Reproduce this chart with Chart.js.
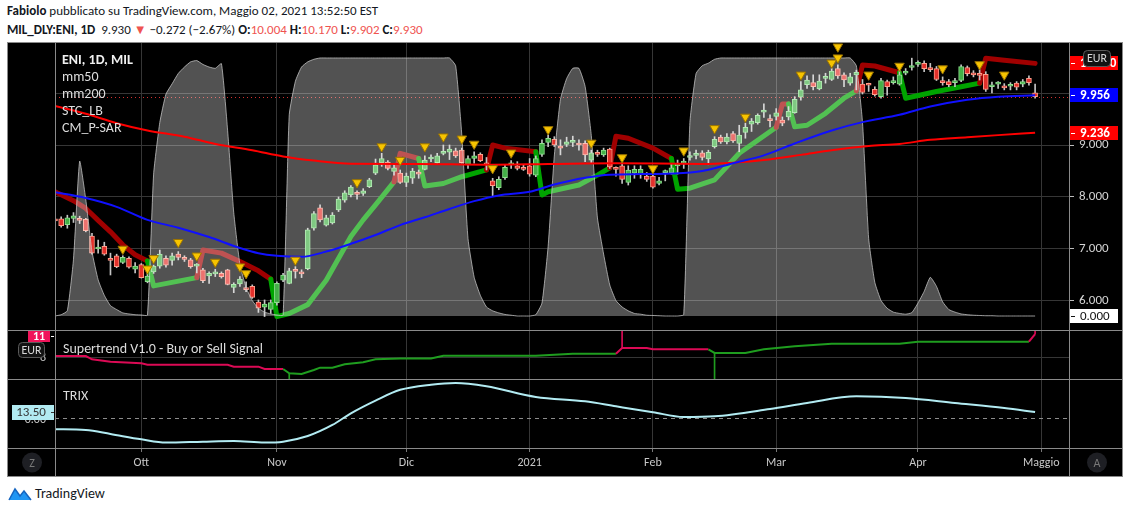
<!DOCTYPE html>
<html>
<head>
<meta charset="utf-8">
<script src="https://cdn.jsdelivr.net/npm/chart.js@4.4.1/dist/chart.umd.min.js"></script>
<style>
  body { margin: 0; width: 1130px; height: 512px; background: #fff; position: relative; overflow: hidden;
         font-family: Carlito, 'Liberation Sans Narrow', 'Liberation Sans', Arial, sans-serif; color: #131722; }
  .hd { position: absolute; left: 7px; font-size: 13px; white-space: nowrap; }
  #h1 { top: 3px; }
  #h2 { top: 22px; }
  .r { color: #ef5350; }
  #frame { position: absolute; left: 7px; top: 42px; background: #000; }
  #foot { position: absolute; left: 8px; top: 484px; display: flex; align-items: center; font-size: 14px; }
  #foot svg { margin-right: 3px; }
</style>
</head>
<body>
<div class="hd" id="h1"><b>Fabiolo</b> pubblicato su TradingView.com, Maggio 02, 2021 13:52:50 EST</div>
<div class="hd" id="h2"><b>MIL_DLY:ENI, 1D</b>&nbsp; 9.930 <span class="r">▼</span> −0.272 (−2.67%) <b>O:</b><span class="r">10.004</span> <b>H:</b><span class="r">10.170</span> <b>L:</b><span class="r">9.902</span> <b>C:</b><span class="r">9.930</span></div>
<canvas id="frame" width="1116" height="435"></canvas>
<div id="foot">
  <svg width="24" height="18" viewBox="0 0 24 18"><path d="M1 16 L7 5 L12 12 L16 7 L23 16 Z" fill="#2196f3"/><path d="M1 16 L7 5 L12 12 L16 7 L23 16" fill="none" stroke="#1565c0" stroke-width="1.5"/></svg>
  <span>TradingView</span>
</div>
<script>
const FONT = "Carlito, 'Liberation Sans Narrow', 'Liberation Sans', Arial, sans-serif";

// ENI daily bars: index 0 = 11 Sep 2020 ... index 159 = 30 Apr 2021
const open = [
  7.57,7.58,7.47,7.59,7.58,7.57,7.25,7.00,7.05,6.82,
  6.87,6.74,6.82,6.61,6.70,6.37,6.56,6.67,6.82,6.78,
  6.90,6.84,6.79,6.67,6.60,6.48,6.52,6.53,6.60,6.26,
  6.33,6.26,6.28,5.98,5.88,5.84,5.97,6.40,6.34,6.61,
  6.55,6.62,7.40,7.79,7.46,7.50,7.75,7.94,8.04,8.07,
  8.07,8.20,8.46,8.66,8.67,8.49,8.46,8.28,8.36,8.47,
  8.53,8.73,8.66,8.84,8.86,8.89,8.90,8.62,8.74,8.82,
  8.64,8.31,8.18,8.37,8.62,8.60,8.57,8.60,8.42,8.82,
  9.05,9.11,8.98,9.01,9.05,9.01,9.03,8.71,8.85,8.81,
  8.92,8.55,8.60,8.28,8.46,8.44,8.40,8.40,8.26,8.47,
  8.47,8.60,8.65,8.76,8.80,8.85,8.73,8.97,9.15,9.06,
  9.22,9.03,9.24,9.40,9.43,9.63,9.49,9.55,9.48,9.54,
  9.62,9.92,10.16,10.20,10.08,10.28,10.26,10.47,10.35,10.19,
  10.35,10.17,10.17,10.07,9.93,10.22,10.20,10.17,10.38,10.49,
  10.55,10.57,10.49,10.47,10.22,10.22,10.20,10.24,10.49,10.39,
  10.38,10.36,10.12,10.17,10.13,10.13,10.19,10.17,10.28,10.004
];
const high = [
  7.60,7.62,7.65,7.70,7.63,7.59,7.30,7.17,7.13,6.92,
  6.90,6.87,6.85,6.74,6.72,6.53,6.69,6.98,6.87,6.92,
  6.95,6.87,6.82,6.72,6.63,6.56,6.61,6.56,6.61,6.35,
  6.47,6.37,6.31,6.02,6.02,6.02,6.37,6.53,6.63,6.66,
  6.60,7.40,7.72,7.85,7.65,7.70,8.00,8.12,8.22,8.12,
  8.16,8.36,8.73,8.84,8.70,8.63,8.52,8.46,8.55,8.52,
  8.79,8.81,8.84,9.00,9.00,8.94,8.94,8.79,8.87,8.85,
  8.76,8.36,8.39,8.62,8.70,8.68,8.62,8.74,8.79,9.10,
  9.19,9.16,9.10,9.15,9.17,9.10,9.08,8.90,8.90,8.94,
  8.94,8.58,8.65,8.60,8.60,8.60,8.47,8.46,8.38,8.52,
  8.64,8.71,8.74,8.87,8.90,8.89,8.90,9.16,9.19,9.22,
  9.26,9.38,9.42,9.51,9.60,9.79,9.58,9.70,9.54,9.74,
  9.93,10.22,10.33,10.35,10.35,10.38,10.47,10.54,10.39,10.38,
  10.44,10.26,10.19,10.12,10.28,10.25,10.31,10.50,10.47,10.67,
  10.62,10.62,10.57,10.51,10.31,10.26,10.28,10.54,10.52,10.43,
  10.45,10.41,10.21,10.22,10.18,10.20,10.22,10.26,10.33,10.170
];
const low = [
  7.50,7.42,7.40,7.51,7.49,7.33,6.90,6.92,6.88,6.50,
  6.64,6.72,6.63,6.54,6.44,6.35,6.53,6.63,6.65,6.69,
  6.79,6.76,6.63,6.54,6.35,6.34,6.47,6.44,6.31,6.16,
  6.28,6.18,6.05,5.78,5.70,5.76,5.92,6.37,6.33,6.44,
  6.45,6.60,7.36,7.52,7.44,7.48,7.72,7.90,8.00,7.96,
  8.03,8.18,8.43,8.59,8.52,8.42,8.26,8.20,8.26,8.36,
  8.52,8.68,8.65,8.81,8.72,8.76,8.65,8.55,8.65,8.68,
  8.52,8.02,8.14,8.34,8.55,8.52,8.51,8.40,8.39,8.78,
  8.97,8.97,8.81,8.97,8.97,8.90,8.68,8.66,8.78,8.78,
  8.55,8.40,8.26,8.23,8.36,8.36,8.30,8.17,8.23,8.31,
  8.44,8.44,8.55,8.71,8.73,8.71,8.62,8.94,9.03,9.02,
  9.05,8.87,9.13,9.26,9.40,9.53,9.35,9.48,9.37,9.48,
  9.61,9.86,10.09,10.06,10.06,10.19,10.24,10.28,10.12,10.15,
  10.06,9.98,10.03,9.94,9.90,9.96,10.17,10.15,10.35,10.44,
  10.51,10.41,10.41,10.24,10.15,10.12,10.12,10.22,10.33,10.31,
  10.25,10.03,10.00,10.09,10.06,10.06,10.06,10.12,10.15,9.902
];
const close = [
  7.54,7.45,7.60,7.64,7.55,7.35,6.92,7.03,6.90,6.78,
  6.66,6.84,6.65,6.67,6.45,6.48,6.67,6.90,6.69,6.87,
  6.84,6.80,6.66,6.69,6.39,6.53,6.56,6.47,6.32,6.32,
  6.42,6.22,6.07,5.86,5.94,5.97,6.34,6.50,6.58,6.57,
  6.52,7.37,7.68,7.56,7.60,7.65,7.96,8.08,8.19,8.05,
  8.12,8.33,8.62,8.74,8.55,8.56,8.28,8.40,8.50,8.44,
  8.71,8.77,8.79,8.88,8.92,8.79,8.66,8.74,8.79,8.70,
  8.62,8.22,8.34,8.57,8.65,8.55,8.53,8.44,8.74,9.03,
  9.13,9.00,8.94,9.06,9.08,9.00,8.81,8.85,8.82,8.90,
  8.58,8.53,8.34,8.52,8.53,8.53,8.34,8.19,8.31,8.50,
  8.56,8.62,8.68,8.79,8.84,8.76,8.86,9.11,9.06,9.15,
  9.08,9.19,9.34,9.46,9.57,9.67,9.47,9.62,9.42,9.65,
  9.88,10.06,10.25,10.12,10.23,10.31,10.42,10.33,10.25,10.31,
  10.40,10.01,10.15,9.97,10.24,10.12,10.23,10.35,10.42,10.52,
  10.58,10.47,10.45,10.26,10.20,10.16,10.22,10.51,10.37,10.35,
  10.34,10.07,10.15,10.19,10.10,10.15,10.11,10.22,10.20,9.930
];

// time axis: bar index of the first session of each month
const monthIdx = [14, 36, 57, 77, 97, 117, 140, 160];
const monthLabels = ['Ott', 'Nov', 'Dic', '2021', 'Feb', 'Mar', 'Apr', 'Maggio'];

// moving averages [bar, value]
const ma50 = [[0,8.09],[5,7.98],[10,7.81],[15,7.56],[20,7.41],[25,7.23],[30,7.02],[33,6.92],[36,6.87],[40,6.85],
  [44,6.95],[48,7.10],[52,7.27],[56,7.46],[60,7.61],[64,7.77],[68,7.92],[72,8.03],[77,8.10],[81,8.24],[86,8.37],
  [90,8.43],[95,8.44],[100,8.45],[105,8.50],[110,8.65],[115,8.80],[120,9.03],[126,9.28],[131,9.44],[137,9.58],
  [142,9.74],[148,9.87],[153,9.93],[159,9.956]];
const ma200 = [[0,9.75],[5,9.60],[10,9.42],[15,9.28],[21,9.16],[26,9.02],[32,8.90],[37,8.78],[42,8.70],[48,8.64],
  [59,8.635],[70,8.62],[80,8.635],[91,8.65],[105,8.635],[110,8.66],[115,8.71],[121,8.81],[126,8.90],[132,8.98],
  [137,9.02],[142,9.10],[148,9.15],[153,9.19],[159,9.236]];

// STC_LB oscillator (0..100), one value per bar
const stc = [
  0,0.5,2,22,60,45,25,14,8,4,
  2.5,1.2,0.8,0.5,0.4,0.3,55,75,86,90,
  94,96.5,98.5,99,97.5,96.5,96,97.8,72,40,
  20,11,6,3,1.5,0.8,0.4,0.3,78,91,
  96.5,98.5,99.5,100,100,100,100,100,100,100,
  100,100,100,100,100,100,100,100,100,100,
  100,100,100,100,100,97,70,30,15,8,
  3.5,2,1.2,0.6,0.3,0,0,0,0.5,5,
  27,62,84,92,96,96,89,70,38,24,
  12,6,3.5,2,1,0.7,0.3,0.2,0.1,0,
  0,0,0.5,75,94,97,98,99.5,100,100,
  100,100,100,100,100,100,100,100,100,100,
  100,100,100,100,100,100,100,100,100,100,
  97,75,30,13,6,3,1.5,1,0.7,1.3,
  5,9.5,15,11.5,5.5,2.5,1.5,0.8,0.5,0.3,
  0.2,0.1,0.1,0,0,0,0,0,0,0
];

// CM_P-SAR line [bar, value]
const psar = [[0,8.10],[3,7.93],[5,7.78],[7,7.55],[9,7.33],[11,7.08],[13,6.89],[15,6.77],
  [16,6.29],[23,6.45],
  [24,6.98],[27,6.92],[30,6.76],[33,6.58],[35,6.42],
  [36,5.70],[38,5.76],[41,5.93],[44,6.40],[48,7.24],[50,7.56],[52,7.85],[55,8.29],
  [56,8.84],[59,8.74],
  [60,8.21],[63,8.26],[66,8.39],[70,8.52],
  [71,9.00],[73,8.94],[78,8.87],
  [79,8.04],[80,8.10],[85,8.23],[88,8.42],[90,8.56],
  [91,9.17],[93,9.13],[97,8.94],[100,8.74],
  [101,8.15],[103,8.17],[107,8.33],[111,8.84],[117,9.34],
  [118,9.79],[119,9.79],
  [120,9.35],[122,9.38],[125,9.61],[128,9.90],[130,10.04],
  [131,10.54],[133,10.52],[137,10.39],
  [138,9.90],[143,10.03],[147,10.12],[150,10.19],
  [151,10.67],[154,10.63],[159,10.57]];

// yellow signal markers [bar, value]
const markers = [[11,7.00],[15,6.62],[16,6.82],[20,7.13],[23,6.87],[26,6.75],[30,6.66],[31,6.53],[39,6.79],
  [49,8.28],[53,8.97],[56,8.71],[60,8.97],[63,9.16],[66,9.12],[68,9.02],[71,8.55],[74,8.85],[80,9.30],
  [87,9.04],[92,8.76],[97,8.55],[102,8.89],[107,9.32],[112,9.54],[121,10.35],[126,10.58],[127,10.68],
  [127,10.89],[132,10.35],[137,10.52],[144,10.47],[150,10.55],[154,10.35]];

// Supertrend V1.0 [bar, value] and its flips
const supertrend = [[0,8.18],[5,8.18],[6,7.72],[9,7.38],[14,7.15],[15,6.96],[28,6.96],[29,6.68],[33,6.68],[34,6.35],
  [37,6.35],[38,5.75],[40,5.65],[42,6.21],[43,6.54],[45,6.54],[47,7.01],[50,7.30],[52,7.72],[56,7.82],[61,7.82],
  [63,8.23],[78,8.23],[84,8.51],[91,8.51],[92,9.31],[96,9.31],[97,9.13],[106,9.13],[107,8.61],[112,8.61],
  [115,9.13],[120,9.55],[126,9.92],[137,9.92],[140,10.2],[158,10.2],[159,11.28]];
const stSignals = [[38,'buy'],[92,'sell'],[107,'buy'],[159,'sell']];

// TRIX [bar, value]
const trix = [[0,-23.5],[5,-25],[9,-33.6],[14,-45],[18,-52],[24,-50],[29,-48.6],[34,-52],[37,-50],[41,-38],
  [45,-14.3],[48,10.7],[52,38],[56,61],[61,72],[65,75.6],[70,68.5],[78,45.6],[86,36.4],[91,25.7],[97,13],
  [102,2.8],[107,4.3],[116,20],[122,32.8],[130,47],[138,43.5],[146,32.8],[154,22],[159,13.5]];

const UP = '#43b047', UP_EDGE = '#8fe08f', DN = '#e3302b', DN_EDGE = '#ff9d8a';
const SAR_RED = '#a00000', SAR_GREEN = '#00a400';
const ST_RED = '#dc0a55', ST_GREEN = '#1f9d1f';
const ST_MIN = 4.944, ST_MAX = 11.845;

const xy = arr => arr.map(([x, y]) => ({x, y}));
const stDir = i => {
  let d = 'sell';
  for (const [k, s] of stSignals) if (k <= i) d = s;
  return d;
};
const stAt = i => supertrend.find(p => p[0] === i)[1];

const decor = {
  id: 'decor',
  beforeDatasetsDraw(chart) {
    const {ctx, chartArea: a, scales: s} = chart;
    ctx.save();
    ctx.lineWidth = 1;
    // last price dotted line
    ctx.strokeStyle = '#d32f2f';
    ctx.setLineDash([1, 3]);
    let yy = Math.round(s.y.getPixelForValue(close[close.length - 1])) + 0.5;
    ctx.beginPath(); ctx.moveTo(a.left, yy); ctx.lineTo(a.right, yy); ctx.stroke();
    // TRIX zero line
    ctx.strokeStyle = '#8c8c8c';
    ctx.setLineDash([4, 4]);
    yy = Math.round(s.ytrix.getPixelForValue(0)) + 0.5;
    ctx.beginPath(); ctx.moveTo(a.left, yy); ctx.lineTo(a.right, yy); ctx.stroke();
    ctx.restore();
  },
  afterDraw(chart) {
    const {ctx, chartArea: a, scales: s, width: W, height: H} = chart;
    ctx.save();
    // frame and pane separators
    ctx.strokeStyle = '#8a8a8a';
    ctx.lineWidth = 1;
    ctx.strokeRect(0.5, 0.5, W - 1, H - 1);
    ctx.beginPath();
    ctx.moveTo(a.left + 0.5, 0); ctx.lineTo(a.left + 0.5, H);
    ctx.moveTo(a.right + 0.5, 0); ctx.lineTo(a.right + 0.5, H);
    for (const y of [s.yst.top, s.ytrix.top, s.x.top]) {
      ctx.moveTo(0, Math.round(y) + 0.5); ctx.lineTo(W, Math.round(y) + 0.5);
    }
    ctx.stroke();

    // legends
    ctx.textBaseline = 'middle';
    ctx.textAlign = 'left';
    ctx.fillStyle = '#f0f0f0';
    ctx.font = `bold 14px ${FONT}`;
    ctx.fillText('ENI, 1D, MIL', a.left + 7, s.y.top + 18);
    ctx.font = `14px ${FONT}`;
    ctx.fillStyle = '#dcdcdc';
    ['mm50', 'mm200', 'STC_LB', 'CM_P-SAR'].forEach((t, i) => ctx.fillText(t, a.left + 7, s.y.top + 35 + i * 17));
    ctx.fillText('Supertrend V1.0 - Buy or Sell Signal', a.left + 8, s.yst.top + 19);
    ctx.fillText('TRIX', a.left + 8, s.ytrix.top + 17);

    const tag = (x, y, w, txt, bg, fg, bold) => {
      ctx.fillStyle = bg;
      ctx.fillRect(x, Math.round(y) - 7, w, 14);
      ctx.fillStyle = fg;
      ctx.fillRect(x + 1, Math.round(y), 4, 1);
      ctx.font = `${bold ? 'bold ' : ''}13px ${FONT}`;
      ctx.textAlign = 'left';
      ctx.fillText(txt, x + 10, Math.round(y) + 0.5);
    };
    const badge = (x, y, w, h) => {
      ctx.fillStyle = '#121212';
      ctx.strokeStyle = '#5a5a5a';
      ctx.beginPath(); ctx.roundRect(x + 0.5, y + 0.5, w, h, 4); ctx.fill(); ctx.stroke();
      ctx.fillStyle = '#d8d8d8';
      ctx.font = `12px ${FONT}`;
      ctx.textAlign = 'center';
      ctx.fillText('EUR', x + w / 2 + 0.5, y + h / 2 + 1);
    };

    // right price tags
    const rx = a.right + 1;
    tag(rx, s.y.getPixelForValue(psar[psar.length - 1][1]), 48, psar[psar.length - 1][1].toFixed(3), '#ff0000', '#fff', true);
    tag(rx, s.y.getPixelForValue(ma50[ma50.length - 1][1]), 48, ma50[ma50.length - 1][1].toFixed(3), '#0000ff', '#fff', true);
    tag(rx, s.y.getPixelForValue(ma200[ma200.length - 1][1]), 48, ma200[ma200.length - 1][1].toFixed(3), '#ff0000', '#fff', true);
    tag(rx, s.ystc.getPixelForValue(stc[stc.length - 1]), 48, stc[stc.length - 1].toFixed(3), '#ffffff', '#111', false);
    badge(a.right + 14, s.y.top + 8, 27, 16);

    // left scale: supertrend
    ctx.fillStyle = '#c8c8c8';
    ctx.font = `12px ${FONT}`;
    ctx.textAlign = 'right';
    ctx.fillText('8', a.left - 9, s.yst.getPixelForValue(8) + 1);
    const stLast = supertrend[supertrend.length - 1][1];
    const ty = s.yst.getPixelForValue(Math.round(stLast));
    ctx.fillStyle = '#f0145a';
    ctx.fillRect(a.left - 27, Math.round(ty) - 5, 22, 11);
    ctx.fillStyle = '#fff';
    ctx.fillRect(a.left - 4, Math.round(ty), 3, 1);
    ctx.font = `bold 12px ${FONT}`;
    ctx.textAlign = 'center';
    ctx.fillText(String(Math.round(stLast)), a.left - 16, Math.round(ty) + 0.5);
    badge(a.left - 37, s.yst.top + 12, 26, 15);

    // left scale: TRIX
    ctx.fillStyle = '#c8c8c8';
    ctx.font = `12px ${FONT}`;
    ctx.textAlign = 'right';
    ctx.fillText('0.00', a.left - 9, s.ytrix.getPixelForValue(0) + 2);
    const tl = trix[trix.length - 1][1];
    const tyy = Math.round(s.ytrix.getPixelForValue(tl));
    ctx.fillStyle = '#b2ebf2';
    ctx.fillRect(a.left - 43, tyy - 7, 42, 15);
    ctx.fillStyle = '#333';
    ctx.fillRect(a.left - 4, tyy, 3, 1);
    ctx.font = `13px ${FONT}`;
    ctx.textAlign = 'center';
    ctx.fillText(tl.toFixed(2), a.left - 24, tyy + 1);

    // Z / A buttons
    const btn = (x, t) => {
      const cy = (s.x.top + H) / 2;
      ctx.fillStyle = '#1e1f24';
      ctx.beginPath(); ctx.arc(x, cy, 10, 0, Math.PI * 2); ctx.fill();
      ctx.fillStyle = '#787878';
      ctx.font = `12px ${FONT}`;
      ctx.textAlign = 'center';
      ctx.fillText(t, x, cy + 1);
    };
    btn(a.left / 2 + 1, 'Z');
    btn((a.right + W) / 2 + 1, 'A');
    ctx.restore();
  }
};

const fixW = s => { s.width = 54; s.paddingTop = 0; s.paddingBottom = 0; };

new Chart(document.getElementById('frame'), {
  type: 'line',
  data: {
    datasets: [
      {
        type: 'line', label: 'STC_LB', yAxisID: 'ystc', order: 5,
        data: stc.map((v, i) => ({x: i, y: v})),
        fill: {value: 0},
        backgroundColor: 'rgba(255,255,255,0.32)',
        borderColor: 'rgba(200,200,200,0.75)', borderWidth: 1,
        pointRadius: 0, tension: 0.15
      },
      {
        type: 'line', label: 'CM_P-SAR', yAxisID: 'y', order: 10,
        data: xy(psar),
        borderColor: SAR_RED, borderWidth: 5,
        borderJoinStyle: 'round', borderCapStyle: 'round',
        segment: {
          borderColor: c => {
            const [i, v] = psar[c.p1DataIndex];
            return v > close[i] ? SAR_RED : SAR_GREEN;
          }
        },
        pointRadius: 0, tension: 0
      },
      {
        type: 'bar', label: 'wick', yAxisID: 'y', order: 9, grouped: false,
        data: close.map((c, i) => ({x: i, y: [low[i], high[i]]})),
        backgroundColor: '#c4c4c4', barThickness: 1
      },
      {
        type: 'bar', label: 'ENI', yAxisID: 'y', order: 8, grouped: false,
        data: close.map((c, i) => ({x: i, y: [open[i], c]})),
        backgroundColor: c => close[c.dataIndex] >= open[c.dataIndex] ? UP : DN,
        borderColor: c => close[c.dataIndex] >= open[c.dataIndex] ? UP_EDGE : DN_EDGE,
        borderWidth: 1, borderSkipped: false, barThickness: 5, minBarLength: 2
      },
      {
        type: 'line', label: 'mm50', yAxisID: 'y', order: 3,
        data: xy(ma50), borderColor: '#1010ff', borderWidth: 2,
        pointRadius: 0, cubicInterpolationMode: 'monotone'
      },
      {
        type: 'line', label: 'mm200', yAxisID: 'y', order: 3,
        data: xy(ma200), borderColor: '#ff0000', borderWidth: 2,
        pointRadius: 0, cubicInterpolationMode: 'monotone'
      },
      {
        type: 'line', label: 'markers', yAxisID: 'y', order: 1, showLine: false, clip: false,
        data: xy(markers),
        pointStyle: 'triangle', rotation: 180, pointRadius: 5.5,
        pointBackgroundColor: '#f7c400', pointBorderColor: '#9c7400', pointBorderWidth: 1
      },
      {
        type: 'line', label: 'Supertrend', yAxisID: 'yst', order: 2,
        data: xy(supertrend),
        borderColor: ST_RED, borderWidth: 2,
        segment: {
          borderColor: c => stDir(supertrend[c.p1DataIndex][0]) === 'sell' ? ST_RED : ST_GREEN
        },
        pointRadius: 0, tension: 0
      },
      {
        type: 'bar', label: 'flips', yAxisID: 'yst', order: 2, grouped: false,
        data: stSignals.map(([i, k]) => ({x: i, y: [stAt(i), k === 'sell' ? ST_MAX : ST_MIN]})),
        backgroundColor: c => stSignals[c.dataIndex][1] === 'sell' ? ST_RED : ST_GREEN,
        barThickness: 1
      },
      {
        type: 'line', label: 'TRIX', yAxisID: 'ytrix', order: 2,
        data: xy(trix), borderColor: '#b2ebf2', borderWidth: 2,
        pointRadius: 0, cubicInterpolationMode: 'monotone'
      }
    ]
  },
  options: {
    responsive: false,
    animation: false,
    devicePixelRatio: 1,
    events: [],
    layout: {autoPadding: false, padding: {left: 48, right: 0, top: 0, bottom: 0}},
    plugins: {legend: {display: false}, tooltip: {enabled: false}},
    scales: {
      x: {
        type: 'linear', min: 0, max: 164.5, offset: false,
        afterBuildTicks: s => { s.ticks = monthIdx.map(v => ({value: v})); },
        afterFit: s => { s.height = 29; s.paddingLeft = 0; s.paddingRight = 0; },
        ticks: {
          callback: (v, i) => monthLabels[i], color: '#c8c8c8',
          font: {family: FONT, size: 12}, maxRotation: 0, autoSkip: false, padding: 4
        },
        grid: {color: '#363636', tickColor: '#777', tickLength: 4, offset: false},
        border: {display: false}
      },
      y: {
        position: 'right', stack: 'panes', stackWeight: 288,
        min: 5.442, max: 10.981,
        afterBuildTicks: s => { s.ticks = [6, 7, 8, 9, 10].map(v => ({value: v})); },
        afterFit: fixW,
        ticks: {callback: v => v.toFixed(3), color: '#d4d4d4', font: {family: FONT, size: 13}, padding: 5},
        grid: {color: '#363636', tickColor: '#bbb', tickLength: 5},
        border: {display: false}
      },
      yst: {
        position: 'right', stack: 'panes', stackWeight: 49,
        min: ST_MIN, max: ST_MAX,
        afterBuildTicks: s => { s.ticks = [{value: 8}]; },
        afterFit: fixW,
        ticks: {display: false},
        grid: {color: '#363636', drawTicks: false},
        border: {display: false}
      },
      ytrix: {
        position: 'right', stack: 'panes', stackWeight: 69,
        min: -63.6, max: 84.15,
        afterFit: fixW,
        ticks: {display: false},
        grid: {display: false},
        border: {display: false}
      },
      ystc: {
        position: 'left', display: false,
        min: -51.16, max: 106.2
      }
    }
  },
  plugins: [decor]
});
</script>
</body>
</html>
